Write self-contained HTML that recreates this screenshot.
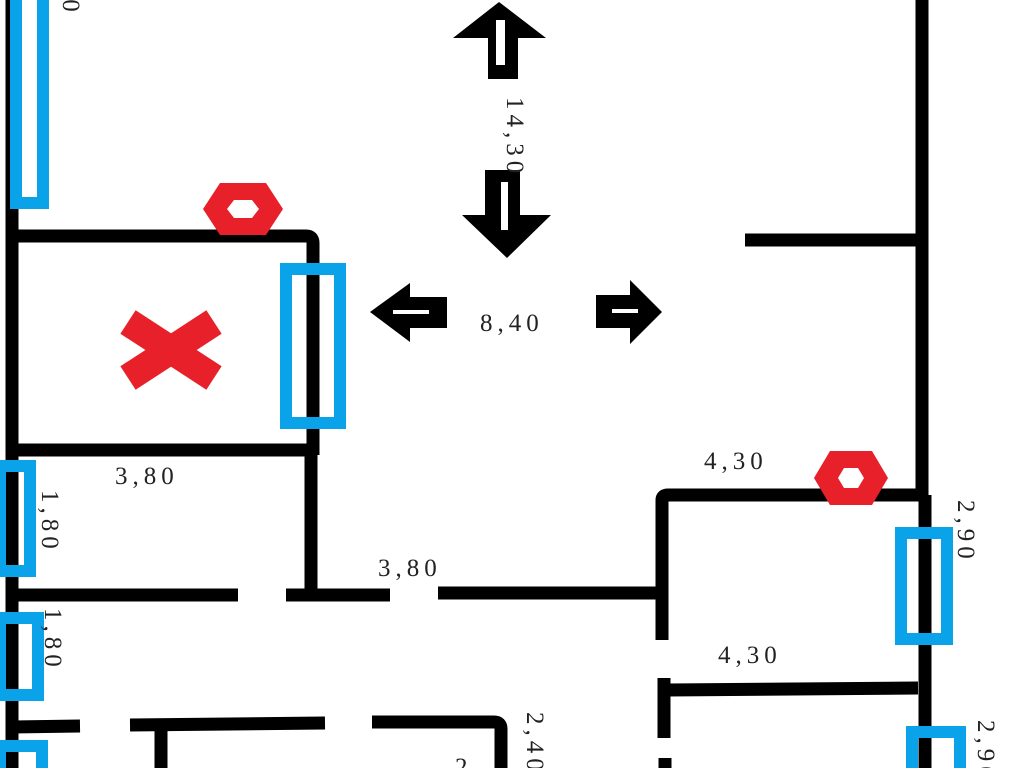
<!DOCTYPE html>
<html><head><meta charset="utf-8"><style>
html,body{margin:0;padding:0;background:#fff;width:1024px;height:768px;overflow:hidden}
svg{display:block}
text{font-family:"Liberation Serif","DejaVu Serif",serif;font-size:25px;fill:#222;letter-spacing:5px}
</style></head><body>
<svg width="1024" height="768" viewBox="0 0 1024 768" xmlns="http://www.w3.org/2000/svg">
<g stroke="#000" stroke-width="13" fill="none" stroke-linecap="butt">
<line x1="12" y1="0" x2="12" y2="768"/>
<path d="M12 236 H306 Q313 236 313 243 V455"/>
<line x1="12" y1="450" x2="313" y2="450"/>
<line x1="311" y1="450" x2="311" y2="595"/>
<line x1="12" y1="595" x2="238" y2="595"/>
<line x1="286" y1="595" x2="390" y2="595"/>
<line x1="438" y1="593" x2="662" y2="593"/>
<path d="M662 640 V500 Q662 495 668 495 H922"/>
<line x1="664" y1="678" x2="664" y2="738"/>
<line x1="665" y1="758" x2="665" y2="768"/>
<line x1="922" y1="0" x2="922" y2="495"/>
<line x1="925" y1="495" x2="925" y2="768"/>
<line x1="745" y1="240" x2="920" y2="240"/>
<line x1="668" y1="690" x2="918" y2="688"/>
<line x1="12" y1="727" x2="80" y2="726"/>
<line x1="130" y1="725" x2="325" y2="723"/>
<path d="M372 722 H494 Q501 722 501 729 V768"/>
<line x1="161" y1="725" x2="161" y2="768"/>
</g>
<g stroke="#0aa2e8" stroke-width="12" fill="none">
<rect x="16" y="-10" width="27" height="213"/>
<rect x="286" y="269" width="54" height="154"/>
<rect x="0" y="466" width="30" height="105"/>
<rect x="0" y="618" width="38" height="77"/>
<rect x="0" y="746" width="42" height="40"/>
<rect x="901" y="533" width="46" height="106"/>
<rect x="912" y="732" width="48" height="50"/>
</g>
<g fill="#e8202a" fill-rule="evenodd">
<path d="M203 209 L220 183 H266 L283 209 L266 235 H220 Z M227 209 L234 200 H252 L259 209 L252 218 H234 Z"/>
<path d="M814 478 L830 451 H872 L888 478 L872 505 H830 Z M838 478 L844 468 H858 L864 478 L858 488 H844 Z"/>
</g>
<g stroke="#e8202a" stroke-width="28" stroke-linecap="butt">
<line x1="128" y1="322" x2="214" y2="378"/>
<line x1="214" y1="322" x2="128" y2="378"/>
</g>
<g fill="#000">
<path d="M499 2 L546 38 H518 V79 H488 V38 H453 Z"/>
<path d="M485 170 H520 V215 H551 L507 258 L462 215 H485 Z"/>
<path d="M370 312 L410 283 V297 H447 V328 H410 V342 Z"/>
<path d="M596 295 H630 V280 L662 312 L630 344 V328 H596 Z"/>
</g>
<g fill="#fff">
<rect x="496" y="20" width="9" height="45"/>
<rect x="501" y="182" width="7" height="48"/>
<rect x="393" y="310" width="36" height="4"/>
<rect x="612" y="309" width="26" height="4"/>
</g>
<text x="480" y="331">8,40</text>
<text x="115" y="484">3,80</text>
<text x="378" y="576">3,80</text>
<text x="704" y="469">4,30</text>
<text x="718" y="663">4,30</text>
<text x="455" y="775">2</text>
<text transform="translate(507,97) rotate(90)">14,30</text>
<text transform="translate(42,490) rotate(90)">1,80</text>
<text transform="translate(45,608) rotate(90)">1,80</text>
<text transform="translate(958,500) rotate(90)">2,90</text>
<text transform="translate(527,712) rotate(90)">2,40</text>
<text transform="translate(978,720) rotate(90)">2,90</text>
<text transform="translate(63,-12) rotate(90)">,0</text>
</svg>
</body></html>
